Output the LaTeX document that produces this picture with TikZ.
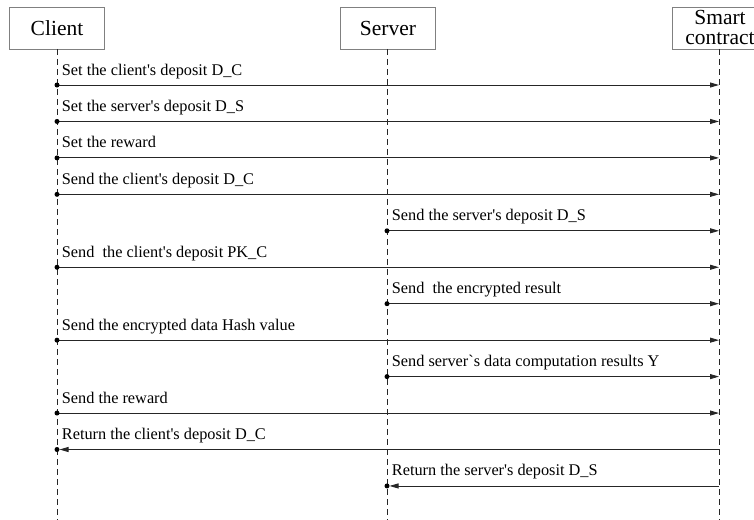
\documentclass[tikz,border=0pt]{standalone}
\usepackage{fontspec}
\newfontfamily\tnr{Liberation Serif}
\usetikzlibrary{arrows.meta,calc}
\begin{document}
\begin{tikzpicture}[x=1pt,y=-1pt,
  head/.style={draw=black!50, line width=0.8pt, minimum width=95pt, minimum height=42pt,
    inner sep=0pt, align=center, font=\tnr\fontsize{21.5}{20}\selectfont},
  life/.style={black!85, line width=0.8pt, dash pattern=on 6pt off 4pt},
  msg/.style={black!85, line width=0.9pt, -{Triangle[length=9pt,width=5pt]}},
  dot/.style={fill=black},
  lbl/.style={anchor=base west, inner sep=0pt, text=black, font=\tnr\fontsize{16.3}{18}\selectfont}]
\useasboundingbox (0,0) rectangle (754,519);
\clip (0,0) rectangle (754,519);
\def\xc{57}\def\xs{387}\def\xk{719}
% headers
\node[head] (cl) at (57,28) {Client};
\node[head] (sv) at (388,28) {Server};
\node[head, text depth=2pt] (sc) at (720,28) {Smart\\contract};
% lifelines
\coordinate (cle) at (\xc,522);
\coordinate (sve) at (\xs,522);
\coordinate (sce) at (\xk,522);
\draw[life] (\xc,49) coordinate (cls) -- (cle);
\draw[life] (\xs,49) coordinate (svs) -- (sve);
\draw[life] (\xk,49) coordinate (scs) -- (sce);
% forward messages
\foreach \i/\fx/\t in {
  0/\xc/{Set the client's deposit D\_C},
  1/\xc/{Set the server's deposit D\_S},
  2/\xc/{Set the reward},
  3/\xc/{Send the client's deposit D\_C},
  4/\xs/{Send the server's deposit D\_S},
  5/\xc/{Send~ the client's deposit PK\_C},
  6/\xs/{Send~ the encrypted result},
  7/\xc/{Send the encrypted data Hash value},
  8/\xs/{Send server`s data computation results Y},
  9/\xc/{Send the reward}}{
  \pgfmathsetmacro\y{85+36.45*\i}
  \coordinate (a\i) at (\fx,\y);
  \coordinate (b\i) at (\xk,\y);
  \draw[msg] (a\i) -- (b\i);
  \fill[dot] (a\i) circle (2.5);
  \node[lbl] (t\i) at ($(a\i)+(4.7,-10)$) {\t};
}
% return messages
\foreach \i/\tx/\t in {
  10/\xc/{Return the client's deposit D\_C},
  11/\xs/{Return the server's deposit D\_S}}{
  \pgfmathsetmacro\y{85+36.45*\i}
  \coordinate (a\i) at (\xk,\y);
  \coordinate (b\i) at (\tx,\y);
  \draw[msg, shorten >=2.5pt] (a\i) -- (b\i);
  \fill[dot] (b\i) circle (2.5);
  \node[lbl] (t\i) at ($(b\i)+(4.7,-10)$) {\t};
}
\end{tikzpicture}
\end{document}
